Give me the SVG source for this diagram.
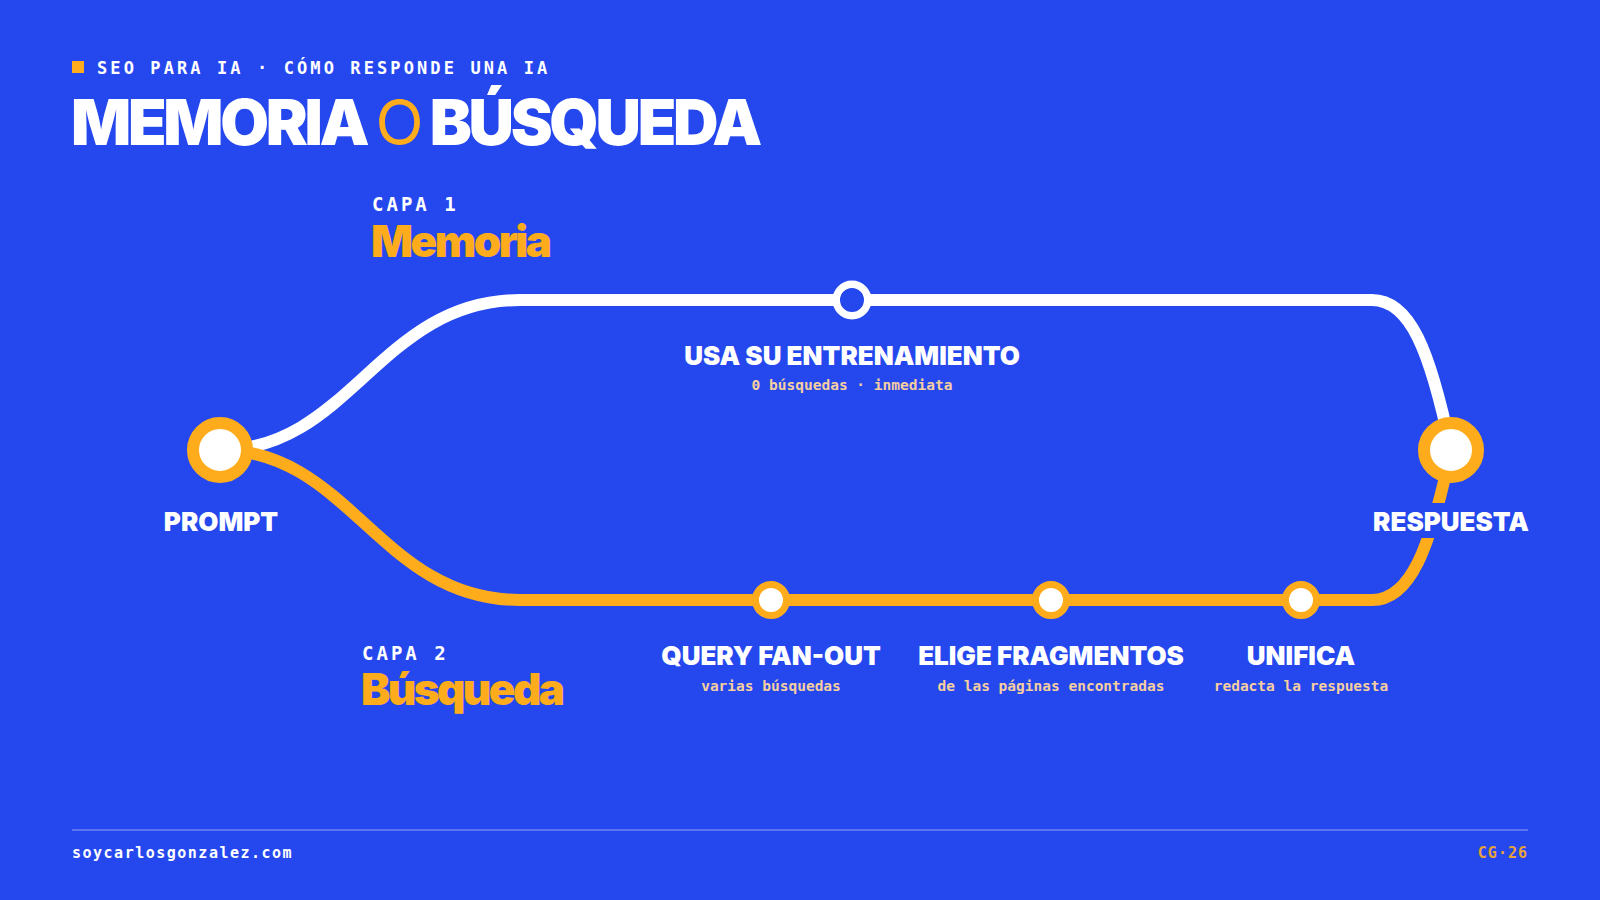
<svg xmlns="http://www.w3.org/2000/svg" width="1600" height="900" viewBox="0 0 1600 900">
<style>
.mono{font-family:"DejaVu Sans Mono","Liberation Mono",monospace;font-weight:700}
.heavy{font-family:Inter,"Liberation Sans",sans-serif;font-weight:900}
.lbl{font-family:Inter,"Liberation Sans",sans-serif;font-weight:900;font-size:26px;fill:#ffffff;text-anchor:middle;letter-spacing:0}
.sub{font-family:"DejaVu Sans Mono","Liberation Mono",monospace;font-weight:700;font-size:14.5px;fill:#F6CFA0;text-anchor:middle}
.big{fill:#ffffff;stroke:#FFAC1C;stroke-width:12}
.stop{fill:#ffffff;stroke:#FFAC1C;stroke-width:7}
</style>
<rect width="1600" height="900" fill="#2548EE"/>
<rect x="72" y="61" width="12" height="12" fill="#FFAC1C"/>
<text x="97" y="74" class="mono" font-size="17" letter-spacing="3.1" fill="#ffffff">SEO PARA IA · CÓMO RESPONDE UNA IA</text>
<text x="71" y="145" class="heavy" font-size="63" letter-spacing="-3.3" fill="#ffffff">MEMORIA <tspan fill="#FFAC1C" font-weight="400">O</tspan> BÚSQUEDA</text>
<text x="372" y="211" class="mono" font-size="19" letter-spacing="3" fill="#ffffff">CAPA 1</text>
<text x="371" y="257" class="heavy" font-size="44" letter-spacing="-2.5" fill="#FFAC1C">Memoria</text>
<text x="362" y="660" class="mono" font-size="19" letter-spacing="3" fill="#ffffff">CAPA 2</text>
<text x="361" y="705" class="heavy" font-size="44" letter-spacing="-2.6" fill="#FFAC1C">Búsqueda</text>
<g id="connectors" fill="none" stroke-width="12" stroke-linecap="round">
<path d="M220 450 C350 450 380 300 520 300 L1372 300 C1410 300 1430 350 1451 450" stroke="#ffffff"/>
<path d="M220 450 C350 450 380 600 520 600 L1372 600 C1410 600 1430 550 1451 450" stroke="#FFAC1C"/>
</g>
<g id="prompt">
<circle cx="220" cy="450" r="27" class="big"/>
<text x="221" y="531" class="lbl">PROMPT</text>
</g>
<g id="respuesta">
<circle cx="1451" cy="450" r="27" class="big"/>
<rect x="1372" y="503" width="158" height="35" fill="#2548EE"/>
<text x="1451" y="531" class="lbl">RESPUESTA</text>
</g>
<g id="memoria-node">
<circle cx="852" cy="300" r="15.75" fill="#2548EE" stroke="#ffffff" stroke-width="7.5"/>
<text x="852" y="365" class="lbl">USA SU ENTRENAMIENTO</text>
<text x="852" y="390" class="sub">0 búsquedas · inmediata</text>
</g>
<g id="fanout">
<circle cx="771" cy="600" r="15.5" class="stop"/>
<text x="771" y="665" class="lbl">QUERY FAN-OUT</text>
<text x="771" y="691" class="sub">varias búsquedas</text>
</g>
<g id="fragmentos">
<circle cx="1051" cy="600" r="15.5" class="stop"/>
<text x="1051" y="665" class="lbl">ELIGE FRAGMENTOS</text>
<text x="1051" y="691" class="sub">de las páginas encontradas</text>
</g>
<g id="unifica">
<circle cx="1301" cy="600" r="15.5" class="stop"/>
<text x="1301" y="665" class="lbl">UNIFICA</text>
<text x="1301" y="691" class="sub">redacta la respuesta</text>
</g>
<line x1="72" y1="830" x2="1528" y2="830" stroke="#ffffff" stroke-opacity="0.5" stroke-width="1.2"/>
<text x="72" y="858" class="mono" font-size="15" letter-spacing="1.5" fill="#ffffff">soycarlosgonzalez.com</text>
<text x="1528" y="858" class="mono" font-size="15" letter-spacing="1" fill="#E8A33A" text-anchor="end">CG·26</text>
</svg>
